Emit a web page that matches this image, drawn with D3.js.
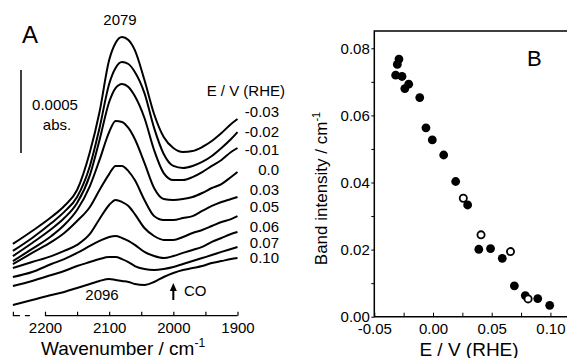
<!DOCTYPE html>
<html>
<head>
<meta charset="utf-8">
<script src="https://cdn.jsdelivr.net/npm/d3@7"></script>
<style>
  body { margin: 0; background: #fff; }
  svg text { font-family: "Liberation Sans", Arial, sans-serif; fill: #000; }
</style>
</head>
<body>
<svg id="chart" width="567" height="358"></svg>
<script>
// ---- panel A: IR spectra (absorbance in 1e-4 units, stacked offsets included)
const wavenumbers = [2250, 2220, 2190, 2170, 2150, 2130, 2115, 2100, 2090, 2080, 2070, 2060,
  2045, 2030, 2015, 2000, 1985, 1970, 1955, 1940, 1925, 1910, 1900];
const potentials = ['-0.03', '-0.02', '-0.01', '0.0', '0.03', '0.05', '0.06', '0.07', '0.10'];
const specM003 = [4.34, 5.12, 5.96, 6.63, 7.59, 9.88, 12.29, 15.42, 16.45, 16.81, 16.63, 16.02,
  14.22, 12.17, 10.78, 10.12, 9.88, 9.94, 10.18, 10.54, 11.02, 11.57, 11.87];
const specM002 = [3.92, 4.70, 5.60, 6.27, 7.17, 9.04, 11.33, 13.98, 14.94, 15.30, 15.18, 14.70,
  13.43, 11.33, 9.76, 9.04, 8.92, 9.04, 9.28, 9.64, 10.12, 10.66, 11.08];
const specM001 = [3.61, 4.40, 5.24, 5.90, 6.81, 8.49, 10.60, 12.89, 13.73, 13.98, 13.80, 13.25,
  11.93, 10.00, 8.61, 8.19, 8.19, 8.37, 8.67, 9.04, 9.40, 9.88, 10.12];
const spec000 = [3.31, 4.04, 4.82, 5.48, 6.39, 7.83, 9.40, 11.08, 11.75, 11.69, 11.33, 10.66,
  9.22, 7.71, 7.05, 6.99, 7.05, 7.17, 7.41, 7.71, 7.95, 8.37, 8.67];
const spec003 = [3.13, 3.80, 4.46, 5.00, 5.72, 6.57, 7.59, 8.55, 9.04, 9.04, 8.73, 8.19,
  6.99, 6.02, 5.78, 5.78, 5.90, 6.02, 6.33, 6.63, 6.87, 7.05, 7.17];
const spec005 = [2.89, 3.25, 3.61, 3.92, 4.28, 4.94, 5.84, 6.69, 6.99, 6.87, 6.63, 6.14,
  5.30, 4.82, 4.58, 4.58, 4.76, 5.00, 5.18, 5.42, 5.66, 5.84, 6.02];
const spec006 = [2.35, 2.65, 3.13, 3.43, 3.80, 4.22, 4.52, 4.76, 4.82, 4.70, 4.52, 4.28,
  3.86, 3.61, 3.49, 3.61, 3.80, 3.98, 4.16, 4.46, 4.70, 4.94, 5.06];
const spec007 = [1.81, 2.11, 2.47, 2.71, 3.01, 3.25, 3.43, 3.55, 3.55, 3.43, 3.25, 3.01,
  2.83, 2.77, 2.83, 2.95, 3.13, 3.31, 3.49, 3.67, 3.86, 4.04, 4.16];
const spec010 = [0.66, 0.96, 1.27, 1.45, 1.69, 1.93, 2.11, 2.23, 2.17, 2.11, 2.05, 1.93,
  1.87, 2.05, 2.35, 2.59, 2.77, 2.89, 3.01, 3.19, 3.31, 3.43, 3.49];
const spectra = [specM003, specM002, specM001, spec000, spec003, spec005, spec006, spec007, spec010];
const wnTicks = [2200, 2100, 2000, 1900];
const wnMinorTicks = [2250, 2200, 2150, 2100, 2050, 2000, 1950, 1900];

// ---- panel B: band intensity vs potential
const filledE = [-0.029, -0.0304, -0.0318, -0.0264, -0.024, -0.0207, -0.0113, -0.006, -0.0006,
  0.0091, 0.0193, 0.0295, 0.039, 0.049, 0.059, 0.0693, 0.0786, 0.0892, 0.0994];
const filledI = [0.0768, 0.0752, 0.072, 0.0716, 0.068, 0.0693, 0.0653, 0.0563, 0.0527,
  0.0482, 0.0403, 0.0333, 0.0201, 0.0203, 0.0174, 0.0092, 0.0063, 0.0054, 0.0034];
const openE = [0.0258, 0.0409, 0.066, 0.081];
const openI = [0.0353, 0.0244, 0.0194, 0.0053];
const eTicks = [-0.05, 0.00, 0.05, 0.10];
const iTicks = [0.00, 0.02, 0.04, 0.06, 0.08];

const svg = d3.select('#chart');

// ================= panel A =================
const xA = d3.scaleLinear().domain([2250, 1900]).range([12.9, 237.5]);
const yA = d3.scaleLinear().domain([0, 1]).range([316, 299.4]);
const gA = svg.append('g');

const line = d3.line()
  .x((d, i) => xA(wavenumbers[i]))
  .y(d => yA(d))
  .curve(d3.curveMonotoneX);

gA.selectAll('path.spec').data(spectra).enter().append('path')
  .attr('class', 'spec')
  .attr('d', line)
  .attr('fill', 'none')
  .attr('stroke', '#000')
  .attr('stroke-width', 2)
  .attr('stroke-linejoin', 'round');

const axisA = gA.append('g')
  .attr('transform', 'translate(0,315.7)')
  .call(d3.axisBottom(xA).tickValues(wnMinorTicks).tickSize(-4).tickPadding(7)
    .tickFormat(d => wnTicks.includes(d) ? d : ''));
axisA.select('.domain').remove();
axisA.selectAll('.tick line').attr('stroke-width', 1.2);
axisA.selectAll('text').attr('font-size', 15).attr('font-family', null);
gA.append('line').attr('x1', xA(2200)).attr('x2', xA(1900)).attr('y1', 315.7).attr('y2', 315.7)
  .attr('stroke', '#000').attr('stroke-width', 1.2);
gA.append('line').attr('x1', xA(2250)).attr('x2', xA(2200)).attr('y1', 315.7).attr('y2', 315.7)
  .attr('stroke', '#000').attr('stroke-width', 1.2).attr('stroke-dasharray', '7,5,5,40');

const xLabA = gA.append('text').attr('x', 123).attr('y', 355).attr('text-anchor', 'middle')
  .attr('font-size', 19).text('Wavenumber / cm');
xLabA.append('tspan').attr('font-size', 12).attr('dy', -8).text('-1');

gA.append('text').attr('x', 22).attr('y', 43).attr('font-size', 24).text('A');
gA.append('text').attr('x', 120).attr('y', 25).attr('text-anchor', 'middle').attr('font-size', 15).text('2079');
gA.append('text').attr('x', 102).attr('y', 300).attr('text-anchor', 'middle').attr('font-size', 15).text('2096');

// scale bar (0.0005 abs = 5 units)
gA.append('line').attr('x1', 21).attr('x2', 21).attr('y1', yA(0)).attr('y2', yA(5))
  .attr('transform', `translate(0,${153 - yA(0)})`)
  .attr('stroke', '#000').attr('stroke-width', 1.5);
gA.append('text').attr('x', 55).attr('y', 110).attr('text-anchor', 'middle').attr('font-size', 15).text('0.0005');
gA.append('text').attr('x', 57).attr('y', 130).attr('text-anchor', 'middle').attr('font-size', 15).text('abs.');

// potential labels
gA.append('text').attr('x', 285).attr('y', 96).attr('text-anchor', 'end').attr('font-size', 15).text('E / V (RHE)');
const labelY = [116.7, 137, 155, 175, 195, 212, 231.5, 248, 263.3];
gA.selectAll('text.pot').data(potentials).enter().append('text')
  .attr('class', 'pot')
  .attr('x', 279).attr('y', (d, i) => labelY[i])
  .attr('text-anchor', 'end').attr('font-size', 15)
  .text(d => d);

// CO arrow
const xCO = xA(2000);
gA.append('line').attr('x1', xCO).attr('x2', xCO).attr('y1', 300).attr('y2', 290)
  .attr('stroke', '#000').attr('stroke-width', 2);
gA.append('path').attr('d', `M${xCO - 3.5},291 L${xCO},283 L${xCO + 3.5},291 Z`).attr('fill', '#000');
gA.append('text').attr('x', 184).attr('y', 296).attr('font-size', 15).text('CO');

// ================= panel B =================
const xB = d3.scaleLinear().domain([-0.05, 0.12]).range([374.3, 573.9]);
const yB = d3.scaleLinear().domain([0, 0.08]).range([316.7, 48.3]);
const gB = svg.append('g');

gB.append('path')
  .attr('d', `M574,31 H${xB(-0.05)} V${yB(0)} H574`)
  .attr('fill', 'none').attr('stroke', '#000').attr('stroke-width', 1.5);

const yAxisB = gB.append('g').attr('transform', `translate(${xB(-0.05)},0)`)
  .call(d3.axisLeft(yB).tickValues(d3.range(0, 0.0801, 0.01)).tickSize(3).tickPadding(1.5)
    .tickFormat(d => iTicks.some(t => Math.abs(t - d) < 1e-6) ? d.toFixed(2) : ''));
yAxisB.select('.domain').remove();
yAxisB.selectAll('text').attr('font-size', 15).attr('font-family', null);

const xAxisB = gB.append('g').attr('transform', `translate(0,${yB(0)})`)
  .call(d3.axisBottom(xB).tickValues(d3.range(-0.05, 0.1001, 0.025)).tickSize(-4).tickPadding(7)
    .tickFormat(d => eTicks.some(t => Math.abs(t - d) < 1e-6) ? d.toFixed(2) : ''));
xAxisB.select('.domain').remove();
xAxisB.selectAll('text').attr('font-size', 15).attr('font-family', null);

const yLabB = gB.append('text').attr('transform', 'translate(327,188.5) rotate(-90)')
  .attr('text-anchor', 'middle').attr('font-size', 17).text('Band intensity / cm');
yLabB.append('tspan').attr('font-size', 11).attr('dy', -7).text('-1');

gB.append('text').attr('x', 469).attr('y', 356).attr('text-anchor', 'middle')
  .attr('font-size', 19).text('E / V (RHE)');
gB.append('text').attr('x', 527).attr('y', 66).attr('font-size', 22).text('B');

gB.selectAll('circle.filled').data(filledE).enter().append('circle')
  .attr('class', 'filled')
  .attr('cx', d => xB(d)).attr('cy', (d, i) => yB(filledI[i]))
  .attr('r', 4.4).attr('fill', '#000');
gB.selectAll('circle.open').data(openE).enter().append('circle')
  .attr('class', 'open')
  .attr('cx', d => xB(d)).attr('cy', (d, i) => yB(openI[i]))
  .attr('r', 3.6).attr('fill', '#fff').attr('stroke', '#000').attr('stroke-width', 1.8);
</script>
</body>
</html>
